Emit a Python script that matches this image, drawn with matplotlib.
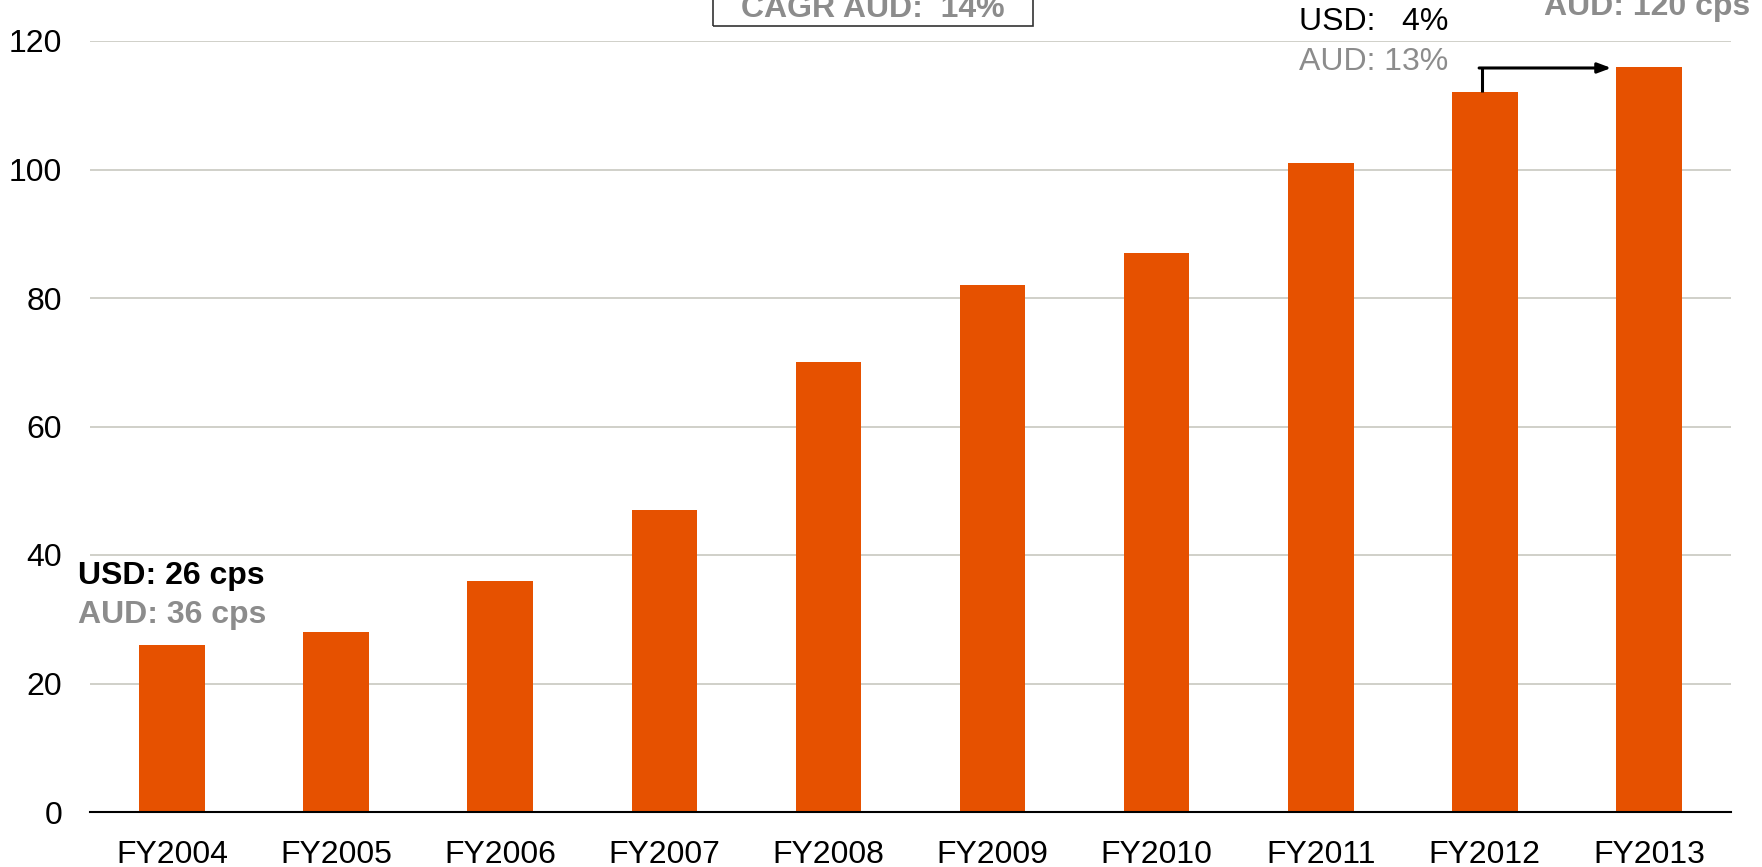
import matplotlib
matplotlib.use("Agg")
import matplotlib.pyplot as plt
from matplotlib.patches import Rectangle

years = ['FY2004', 'FY2005', 'FY2006', 'FY2007', 'FY2008',
         'FY2009', 'FY2010', 'FY2011', 'FY2012', 'FY2013']
dividends = [26, 28, 36, 47, 70, 82, 87, 101, 112, 116]
y_ticks = [0, 20, 40, 60, 80, 100, 120]

orange = '#E65100'
grey_txt = '#8C8C8C'

plt.rcParams['font.family'] = ['Liberation Sans', 'DejaVu Sans']

fig = plt.figure(figsize=(17.62, 8.67), dpi=100)
ax = fig.add_axes([90 / 1762, 55 / 867, 1641 / 1762, 771 / 867])

x = list(range(len(years)))
ax.bar(x, dividends, width=0.40, color=orange, zorder=3)

ax.set_xlim(-0.5, len(years) - 0.5)
ax.set_ylim(0, 120)
ax.set_yticks(y_ticks)
ax.set_xticks(x)
ax.set_xticklabels(years)
ax.tick_params(axis='both', length=0, labelsize=23)
ax.tick_params(axis='y', pad=20)
ax.tick_params(axis='x', pad=20)
ax.grid(axis='y', color='#C8C8C0', linewidth=1.2, zorder=0)
for s in ['top', 'right', 'left']:
    ax.spines[s].set_visible(False)
ax.spines['bottom'].set_color('black')
ax.spines['bottom'].set_linewidth(1.5)
ax.spines['bottom'].set_zorder(4)

# start / end labels
ax.text(-0.575, 36.7, 'USD: 26 cps', fontsize=23, fontweight='bold',
        color='black', ha='left', va='center', clip_on=False)
ax.text(-0.575, 30.7, 'AUD: 36 cps', fontsize=23, fontweight='bold',
        color=grey_txt, ha='left', va='center', clip_on=False)
ax.text(8.36, 124.0, 'AUD: 120 cps', fontsize=23, fontweight='bold',
        color=grey_txt, ha='left', va='baseline', clip_on=False)

# growth FY2012 -> FY2013
ax.text(6.865, 123.0, 'USD:   4%', fontsize=23, color='black',
        ha='left', va='center', clip_on=False)
ax.text(6.865, 116.7, 'AUD: 13%', fontsize=23, color=grey_txt,
        ha='left', va='center', clip_on=False)
ax.plot([7.98, 7.98], [dividends[8], 115.8], color='black', lw=2.2,
        solid_capstyle='butt', clip_on=False, zorder=5)
ax.annotate('', xy=(8.77, 115.8), xytext=(7.965, 115.8),
            arrowprops=dict(arrowstyle='-|>,head_length=0.8,head_width=0.3',
                            color='black', lw=2.2, shrinkA=0, shrinkB=0),
            annotation_clip=False, zorder=5)

# CAGR box (cut off at top, as in the source slide)
fig.patches.append(Rectangle((713 / 1762, 841 / 867), 320 / 1762, 0.1,
                             transform=fig.transFigure, fill=False,
                             edgecolor='#333333', linewidth=1.2))
fig.text(873 / 1762, 850 / 867, 'CAGR AUD:  14%', fontsize=23,
         fontweight='bold', color=grey_txt, ha='center', va='baseline')

fig.savefig('out.png', dpi=100)
